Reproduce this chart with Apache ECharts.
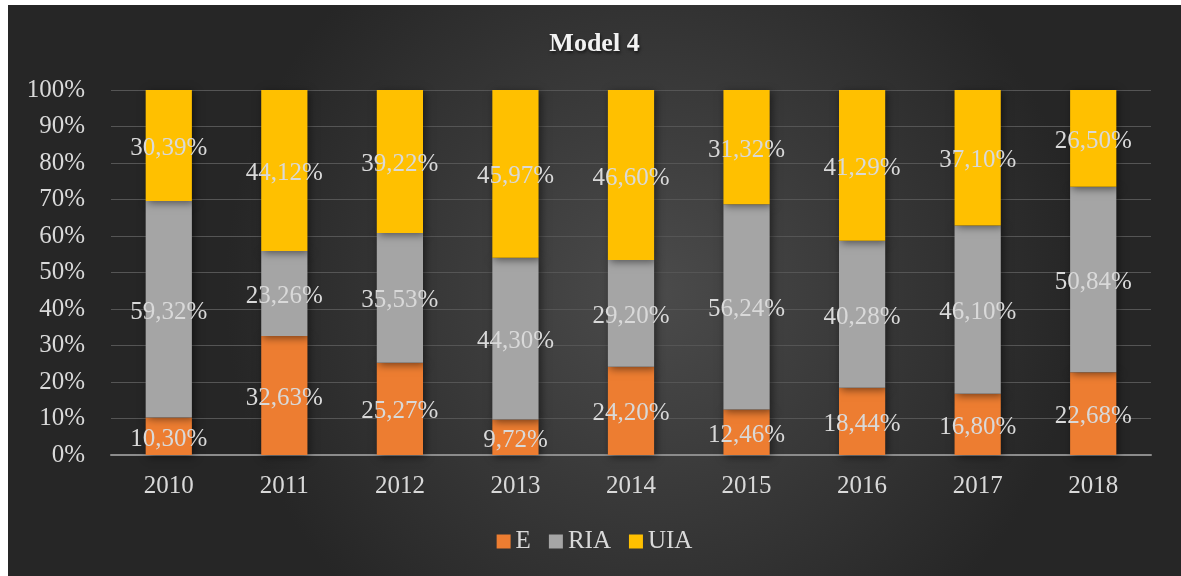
<!DOCTYPE html>
<html>
<head>
<meta charset="utf-8">
<script src="https://cdn.jsdelivr.net/npm/echarts@6/dist/echarts.min.js"></script>
<style>
html,body{margin:0;padding:0;background:#fff;width:1181px;height:576px;overflow:hidden;}
#c{position:absolute;left:8px;top:5px;width:1173px;height:571px;}
</style>
</head>
<body>
<div id="c"></div>
<script>
const years = ['2010','2011','2012','2013','2014','2015','2016','2017','2018'];
const seriesNames = ['E','RIA','UIA'];
const valE   = [10.30, 32.63, 25.27, 9.72, 24.20, 12.46, 18.44, 16.80, 22.68];
const valRIA = [59.32, 23.26, 35.53, 44.30, 29.20, 56.24, 40.28, 46.10, 50.84];
const valUIA = [30.39, 44.12, 39.22, 45.97, 46.60, 31.32, 41.29, 37.10, 26.50];
const yTicks = [0,10,20,30,40,50,60,70,80,90,100];

const colors = ['#ED7D31','#A5A5A5','#FFC000'];
const font = 'Liberation Serif, Times New Roman, serif';
const txt = '#d9d9d9';

const chart = echarts.init(document.getElementById('c'));
function mk(name, data, i){
  return {
    name: name, type:'bar', stack:'s', data:data, barWidth:'40%',
    itemStyle:{color:colors[i], shadowColor:'rgba(0,0,0,0.5)', shadowBlur:8, shadowOffsetX:2, shadowOffsetY:2},
    label:{show:true, position:'inside', offset:[0,3], color:txt, fontFamily:font, fontSize:25,
      formatter:p=>p.value.toFixed(2).replace('.',',')+'%'}
  };
}
chart.setOption({
  backgroundColor:{type:'radial', x:0.55, y:0.5, r:0.75, colorStops:[{offset:0,color:'#4b4b4b'},{offset:1,color:'#262626'}]},
  animation:false,
  title:{text:'Model 4', left:'center', top:21, textStyle:{color:'#f2f2f2', fontFamily:font, fontSize:26, fontWeight:'bold',
    textShadowColor:'rgba(0,0,0,0.6)', textShadowBlur:3, textShadowOffsetX:1, textShadowOffsetY:2}},
  legend:{data:seriesNames, bottom:17, left:'center', itemWidth:14, itemHeight:14, itemGap:18, icon:'rect',
    textStyle:{color:txt, fontFamily:font, fontSize:25}},
  grid:{left:103, right:30, top:85, bottom:121},
  xAxis:{type:'category', data:years,
    axisLine:{lineStyle:{color:'#8c8c8c', width:2}}, axisTick:{show:false},
    axisLabel:{color:txt, fontFamily:font, fontSize:25, margin:19}},
  yAxis:{type:'value', min:0, max:100, interval:10,
    axisLabel:{color:txt, fontFamily:font, fontSize:25, margin:26, formatter:v=>yTicks.includes(v)?v+'%':''},
    splitLine:{lineStyle:{color:'#555555', width:1}}, axisLine:{show:false}, axisTick:{show:false}},
  series:[mk('E',valE,0), mk('RIA',valRIA,1), mk('UIA',valUIA,2)]
});
</script>
</body>
</html>
